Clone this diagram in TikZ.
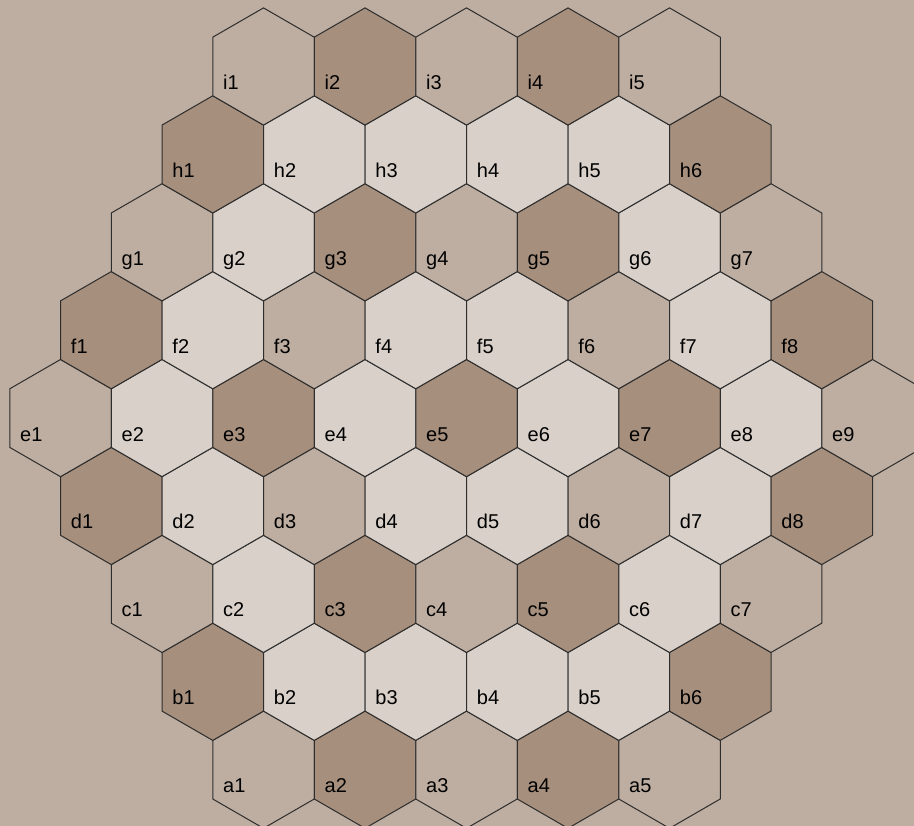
\documentclass[tikz,border=0pt]{standalone}
\usepackage{fontspec}
\setmainfont{Liberation Sans}
\definecolor{boardbg}{RGB}{190,174,161}
\definecolor{cellL}{RGB}{217,208,201}
\definecolor{cellM}{RGB}{190,174,161}
\definecolor{cellD}{RGB}{166,143,125}
\definecolor{edge}{RGB}{45,45,45}
\begin{document}
\begin{tikzpicture}[
  x=1pt, y=1pt,
  cell/.style={draw=edge, line width=1pt, line join=miter},
  tag/.style={font=\fontsize{20}{22}\selectfont, inner sep=0pt, anchor=base west}
]
\useasboundingbox (0,0) rectangle (914,826);
\fill[boardbg] (0,0) rectangle (914,826);
\clip (0,0) rectangle (914,826);
% rows a..i, one colour per cell
\foreach \row/\r/\cols in {a/0/{M,D,M,D,M}, b/1/{D,L,L,L,L,D},
    c/2/{M,L,D,M,D,L,M}, d/3/{D,L,M,L,L,M,L,D},
    e/4/{M,L,D,L,D,L,D,L,M}, f/5/{D,L,M,L,L,M,L,D},
    g/6/{M,L,D,M,D,L,M}, h/7/{D,L,L,L,L,D}, i/8/{M,D,M,D,M}} {
  \foreach \t [count=\k] in \cols {
    \pgfmathsetmacro\cx{60.5+abs(\r-4)*50.75+(\k-1)*101.5}
    \pgfmathsetmacro\cy{56.3+\r*87.9}
    \draw[cell, fill=cell\t] (\cx,\cy) +(90:58.6) -- +(150:58.6) -- +(210:58.6)
      -- +(270:58.6) -- +(330:58.6) -- +(30:58.6) -- cycle;
    \node[tag] (\row\k) at (\cx-40.5,\cy-23) {\row\k};
  }
}
\end{tikzpicture}
\end{document}
